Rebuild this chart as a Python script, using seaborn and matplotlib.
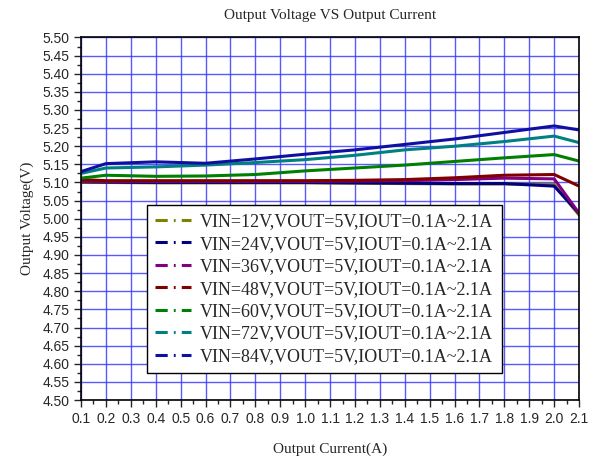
import numpy as np
import pandas as pd
import seaborn as sns
import matplotlib
matplotlib.use('Agg')
import matplotlib.pyplot as plt
from matplotlib.lines import Line2D
from matplotlib.ticker import MultipleLocator

# data
iout = [0.1, 0.2, 0.4, 0.6, 0.8, 1.0, 1.2, 1.4, 1.6, 1.8, 2.0, 2.1]
v12 = [5.100, 5.100, 5.099, 5.099, 5.099, 5.099, 5.098, 5.097, 5.096, 5.096, 5.094, 5.010]
v24 = [5.102, 5.101, 5.100, 5.100, 5.100, 5.100, 5.099, 5.098, 5.097, 5.097, 5.090, 5.015]
v36 = [5.103, 5.103, 5.103, 5.103, 5.103, 5.103, 5.104, 5.105, 5.108, 5.112, 5.110, 5.015]
v48 = [5.108, 5.105, 5.105, 5.105, 5.105, 5.105, 5.106, 5.108, 5.113, 5.120, 5.122, 5.090]
v60 = [5.112, 5.120, 5.117, 5.118, 5.122, 5.132, 5.140, 5.148, 5.158, 5.168, 5.177, 5.159]
v72 = [5.125, 5.140, 5.143, 5.148, 5.155, 5.163, 5.175, 5.190, 5.200, 5.213, 5.228, 5.210]
v84 = [5.130, 5.152, 5.157, 5.153, 5.165, 5.178, 5.190, 5.205, 5.220, 5.238, 5.256, 5.245]

labels = ['VIN=12V,VOUT=5V,IOUT=0.1A~2.1A', 'VIN=24V,VOUT=5V,IOUT=0.1A~2.1A',
          'VIN=36V,VOUT=5V,IOUT=0.1A~2.1A', 'VIN=48V,VOUT=5V,IOUT=0.1A~2.1A',
          'VIN=60V,VOUT=5V,IOUT=0.1A~2.1A', 'VIN=72V,VOUT=5V,IOUT=0.1A~2.1A',
          'VIN=84V,VOUT=5V,IOUT=0.1A~2.1A']
colors = ['#808000', '#000080', '#800080', '#800000', '#008000', '#008080', '#1010a0']

series = [v12, v24, v36, v48, v60, v72, v84]
df = pd.concat([pd.DataFrame({'I': iout, 'V': s, 'name': lab}) for s, lab in zip(series, labels)])

sns.set_style('white')
fig = plt.figure(figsize=(5.97, 4.61), dpi=100)
ax = fig.add_axes([0.1357, 0.1323, 0.8343, 0.7864])

sns.lineplot(data=df, x='I', y='V', hue='name', palette=colors, linewidth=2.2,
             legend=False, ax=ax, sort=False)

ax.set_xlim(0.1, 2.1)
ax.set_ylim(4.5, 5.5)
xt = np.round(np.arange(0.1, 2.11, 0.1), 1)
ax.set_xticks(xt)
ax.set_xticklabels([f'{v:.1f}' for v in xt], fontsize=10, family='Liberation Sans')
ax.xaxis.set_minor_locator(MultipleLocator(0.05))
yt = np.round(np.arange(4.5, 5.51, 0.05), 2)
ax.set_yticks(yt)
ax.set_yticklabels([f'{v:.2f}' for v in yt], fontsize=10, family='Liberation Sans')
ax.yaxis.set_minor_locator(MultipleLocator(0.025))
ax.tick_params(which='major', direction='out', length=5, width=1, bottom=True, left=True)
ax.tick_params(which='minor', direction='out', length=3, width=1, bottom=True, left=True)
ax.grid(True, which='major', color='#3030ff', linewidth=1, alpha=0.8)
for sp in ax.spines.values():
    sp.set_color('black')
    sp.set_linewidth(1.2)

ax.set_title('Output Voltage VS Output Current', family='Liberation Serif', fontsize=11, pad=13)
ax.set_xlabel('Output Current(A)', family='Liberation Serif', fontsize=11, labelpad=12)
ax.set_ylabel('Output Voltage(V)', family='Liberation Serif', fontsize=11, labelpad=6)

handles = [Line2D([0], [0], color=c, linewidth=2.2, linestyle=(0, (4, 2, 0.6, 2))) for c in colors]
leg = ax.legend(handles, labels, loc='lower left', bbox_to_anchor=(0.1325, 0.0745),
                prop={'family': 'Liberation Serif', 'size': 13}, frameon=True,
                fancybox=False, handlelength=2.0, handletextpad=0.5,
                labelspacing=0.3, borderpad=0.45, borderaxespad=0)
leg.get_frame().set_edgecolor('black')
leg.get_frame().set_linewidth(1)
leg.get_frame().set_alpha(1)

fig.savefig('out.png', dpi=100)
